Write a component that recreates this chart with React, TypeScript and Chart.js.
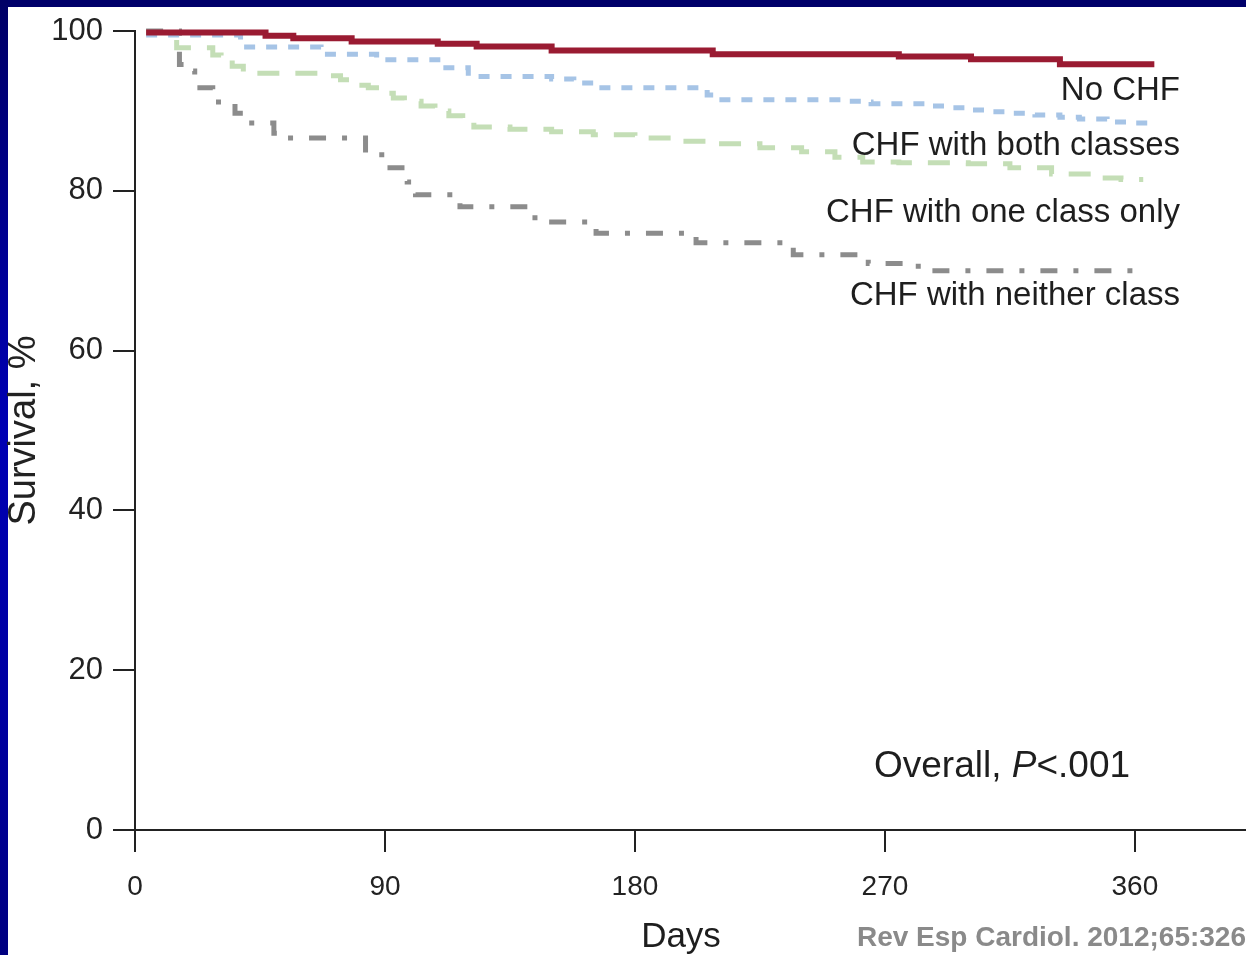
import React, { useEffect, useRef } from "react";
import { Chart, registerables } from "chart.js";
Chart.register(...registerables);

const FONT = "'Liberation Sans', Arial, Helvetica, sans-serif";

const xTicks = [0, 90, 180, 270, 360];
const yTicks = [0, 20, 40, 60, 80, 100];

const seriesNames = ["No CHF", "CHF with both classes", "CHF with one class only", "CHF with neither class"];

const noChfDays = [4, 47, 57, 78, 109, 123, 150, 208, 275, 301, 333, 367];
const noChfSurv = [99.8, 99.4, 99.1, 98.7, 98.4, 98.05, 97.55, 97.1, 96.8, 96.45, 95.85, 95.85];

const bothDays = [4, 38, 67, 87, 111, 120, 150, 158, 166, 206, 210, 255, 262, 265, 285, 292, 300, 308, 315, 324, 333, 340, 350, 357, 366];
const bothSurv = [99.5, 98.0, 97.1, 96.4, 95.4, 94.3, 94.0, 93.5, 92.9, 92.0, 91.4, 91.2, 91.1, 90.9, 90.6, 90.4, 90.1, 89.9, 89.7, 89.5, 89.2, 89.0, 88.6, 88.5, 88.5];

const oneDays = [4, 15, 28, 31, 35, 39, 70, 74, 80, 84, 88, 93, 97, 103, 108, 113, 118, 122, 135, 150, 165, 180, 195, 210, 225, 240, 252, 262, 275, 300, 315, 330, 345, 355, 363];
const oneSurv = [99.8, 97.9, 97.0, 96.4, 95.6, 94.7, 94.4, 93.9, 93.2, 92.9, 92.2, 91.6, 91.2, 90.6, 90.0, 89.4, 88.6, 88.0, 87.7, 87.4, 87.0, 86.6, 86.2, 85.9, 85.4, 84.9, 84.2, 83.6, 83.5, 83.4, 82.9, 82.1, 81.6, 81.4, 81.4];

const neitherDays = [4, 16, 20, 21.5, 28, 36, 40, 50, 54, 83, 86, 90, 98, 101, 117, 144, 166, 202, 237, 264, 282, 363];
const neitherSurv = [100, 95.8, 95.0, 92.9, 91.1, 89.7, 88.5, 87.2, 86.6, 84.7, 84.5, 82.9, 81.1, 79.5, 78.0, 76.1, 74.7, 73.5, 72.0, 70.9, 70.0, 70.0];

const zip = (xs: number[], ys: number[]) => xs.map((x, i) => ({ x, y: ys[i] }));

const textPlugin = {
  id: "texts",
  afterDraw(chart: any) {
    const ctx = chart.ctx as CanvasRenderingContext2D;
    ctx.save();
    ctx.fillStyle = "#1e1e1e";
    ctx.textBaseline = "alphabetic";
    // curve labels
    ctx.font = `33px ${FONT}`;
    ctx.textAlign = "right";
    ctx.fillText(seriesNames[0], 1180, 100);
    ctx.fillText(seriesNames[1], 1180, 155);
    ctx.fillText(seriesNames[2], 1180, 222);
    ctx.fillText(seriesNames[3], 1180, 305);
    // overall p
    ctx.textAlign = "left";
    let x = 874;
    ctx.font = `37px ${FONT}`;
    ctx.fillText("Overall, ", x, 777);
    x += ctx.measureText("Overall, ").width;
    ctx.font = `italic 37px ${FONT}`;
    ctx.fillText("P", x, 777);
    x += ctx.measureText("P").width;
    ctx.font = `37px ${FONT}`;
    ctx.fillText("<.001", x, 777);
    // x axis title
    ctx.font = `35px ${FONT}`;
    ctx.textAlign = "center";
    ctx.fillText("Days", 681, 947);
    // source
    ctx.font = `bold 28px ${FONT}`;
    ctx.fillStyle = "#8a8a8a";
    ctx.textAlign = "right";
    ctx.fillText("Rev Esp Cardiol. 2012;65:326", 1246, 946);
    ctx.restore();
  },
};

export default function App() {
  const ref = useRef<HTMLCanvasElement>(null);
  useEffect(() => {
    const canvas = ref.current!;
    const base = { pointRadius: 0, fill: false, stepped: "before" as const, clip: false as any, borderCapStyle: "butt" as const, borderJoinStyle: "miter" as const };
    const chart = new Chart(canvas, {
      type: "line",
      data: {
        datasets: [
          { ...base, label: seriesNames[0], data: zip(noChfDays, noChfSurv), borderColor: "#9a1b32", borderWidth: 6 },
          { ...base, label: seriesNames[1], data: zip(bothDays, bothSurv), borderColor: "#a6c4e6", borderWidth: 5, borderDash: [11, 11] },
          { ...base, label: seriesNames[2], data: zip(oneDays, oneSurv), borderColor: "#c4deb6", borderWidth: 5, borderDash: [22, 16] },
          { ...base, label: seriesNames[3], data: zip(neitherDays, neitherSurv), borderColor: "#8c8c8c", borderWidth: 5, borderDash: [17, 16, 5, 16] },
        ],
      },
      options: {
        responsive: false,
        animation: false,
        devicePixelRatio: 1,
        layout: { padding: { top: 31, left: 0, right: 0, bottom: 0 } },
        plugins: { legend: { display: false }, tooltip: { enabled: false }, title: { display: false } },
        scales: {
          x: {
            type: "linear",
            min: 0,
            max: 400,
            afterBuildTicks: (s: any) => { s.ticks = xTicks.map((v) => ({ value: v })); },
            afterFit: (s: any) => { s.height = 125; },
            grid: { drawOnChartArea: false, drawTicks: true, tickLength: 22, color: "#222", lineWidth: 2 },
            border: { display: true, color: "#222", width: 2 },
            ticks: { font: { family: FONT, size: 28 }, color: "#222", padding: 18, maxRotation: 0, autoSkip: false },
          },
          y: {
            type: "linear",
            min: 0,
            max: 100,
            afterBuildTicks: (s: any) => { s.ticks = yTicks.map((v) => ({ value: v })); },
            afterFit: (s: any) => { s.width = 135; },
            grid: { drawOnChartArea: false, drawTicks: true, tickLength: 22, color: "#222", lineWidth: 2 },
            border: { display: true, color: "#222", width: 2 },
            ticks: { font: { family: FONT, size: 31 }, color: "#222", padding: 10 },
            title: { display: true, text: "Survival, %", font: { family: FONT, size: 38 }, color: "#222", padding: { top: 2, bottom: 0 } },
          },
        },
      },
      plugins: [textPlugin],
    });
    return () => chart.destroy();
  }, []);
  return (
    <div style={{ position: "fixed", left: 0, top: 0, width: 1246, height: 955, background: "#00006a", overflow: "hidden" }}>
      <div style={{ position: "absolute", left: 0, top: 0, width: 8, height: 955, background: "linear-gradient(to bottom, #000066 0%, #0000b4 45%, #0000a0 75%, #000080 100%)" }} />
      <div style={{ position: "absolute", left: 8, top: 7, right: 0, bottom: 0, background: "#ffffff" }} />
      <canvas ref={ref} width={1246} height={955} style={{ position: "absolute", left: 0, top: 0, width: 1246, height: 955 }} />
    </div>
  );
}
